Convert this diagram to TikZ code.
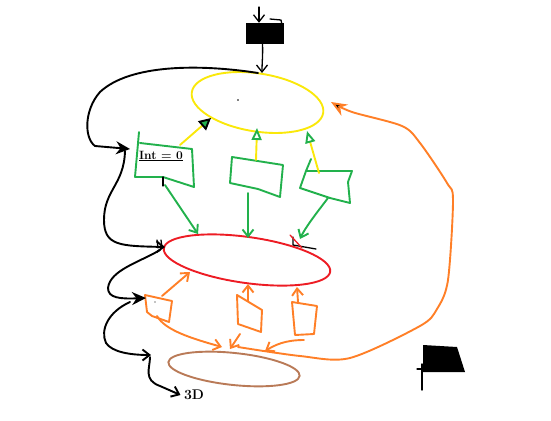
\documentclass[tikz,border=0pt]{standalone}
\usetikzlibrary{arrows.meta,shapes.geometric}
\definecolor{pyellow}{RGB}{250,232,10}
\definecolor{pgreen}{RGB}{34,177,76}
\definecolor{pred}{RGB}{237,28,36}
\definecolor{porange}{RGB}{255,127,39}
\definecolor{pbrown}{RGB}{185,122,87}
\begin{document}
\begin{tikzpicture}[x=1pt,y=-1pt,line cap=round,line join=round,
  stroke/.style={line width=1.9pt},
  thin stroke/.style={line width=1.3pt},
  barb/.style={-{Straight Barb[length=7pt,width=11pt]}},
  fatbarb/.style={-{Stealth[length=14pt,width=13pt]}},
  greentip/.style={-{Triangle[open,length=12pt,width=10pt,color=pgreen]}},
  ring/.style={ellipse,draw,stroke,inner sep=0pt}]
\useasboundingbox (0,0) rectangle (551,420);

% ---------- main shapes ----------
\node[fill=black,minimum width=38pt,minimum height=21pt,inner sep=0pt] (start) at (264.5,33.5) {};
\draw[thin stroke] (270,19) -- (281,20) -- (283,30);
\node[ring,draw=pyellow,minimum width=133pt,minimum height=58pt,rotate=-9] (loop) at (257.5,102.5) {};
\node[ring,draw=pred,minimum width=168pt,minimum height=46pt,rotate=-8] (body) at (247,260) {};
\node[ring,draw=pbrown,minimum width=132pt,minimum height=32pt,rotate=-6] (exit) at (234,369) {};
\node[font=\bfseries\fontsize{14}{14}\selectfont] (threeD) at (194,395) {3D};
\fill (238,100) circle (0.8pt);

% flag
\fill (423,345) -- (457,347) -- (465,372) -- (423,372) -- cycle;
\draw[line width=1.4pt] (422,364) -- (422,390);
\draw[thin stroke] (417,369) -- (423,369);

% named points on the shapes
\coordinate (inTop) at (259,7);
\coordinate (loopTop) at (262,73);
\coordinate (loopTopL) at (258,73);
\coordinate (loopR) at (331,102);
\coordinate (loopB1) at (211,118);
\coordinate (loopB2) at (257,128);
\coordinate (loopB3) at (307,131);
\coordinate (b1W) at (130,149);
\coordinate (b1link) at (125,151);
\coordinate (redL) at (165,247);
\coordinate (redLout) at (160,250);
\coordinate (redT1) at (198,234);
\coordinate (redT2) at (248,238);
\coordinate (redT3) at (300,239);
\coordinate (redB1) at (190,272);
\coordinate (redB2) at (248,284);
\coordinate (redB3) at (297,287);
\coordinate (o1W) at (146,298);
\coordinate (o1link) at (130,302);
\coordinate (exitW) at (151,355);
\coordinate (exitlink) at (150,357);
\coordinate (merge) at (238,347);

% ---------- green boxes ----------
\draw[pgreen,stroke] (139,132) -- (135,177) -- (163,177) -- (194,187) -- (192,149) -- (140,143);
\node[anchor=west,font=\bfseries\fontsize{12}{12}\selectfont,inner sep=0pt] (init) at (139,156) {\underline{Int = 0}};
\draw[thin stroke] (163,177) -- (163,186);
\coordinate (b1T) at (180,145);
\coordinate (b1B) at (165,185);

\draw[pgreen,stroke] (232,157) -- (283,165) -- (280,197) -- (258,189) -- (230,183) -- cycle;
\coordinate (b2T) at (256,160);
\coordinate (b2B) at (248,193);

\draw[pgreen,stroke] (311,159) -- (306,171) -- (300,188) -- (330,198) -- (350,203) -- (348,182) -- (352,171) -- (306,171);
\coordinate (b3T) at (319,173);
\coordinate (b3B) at (328,198);

% ---------- orange boxes ----------
\draw[porange,stroke] (145,295) -- (172,301) -- (169,322) -- (152,316) -- (147,312) -- cycle;
\fill (155,302) circle (0.7pt);
\coordinate (o1T) at (162,296);
\coordinate (o1B) at (157,316);

\draw[porange,stroke] (237,295) -- (262,310) -- (261,332) -- (238,324) -- cycle;
\coordinate (o2T) at (248,301);
\coordinate (o2B) at (240,334);

\draw[porange,stroke] (292,302) -- (295,335) -- (314,334) -- (317,306) -- cycle;
\coordinate (o3T) at (298,302);
\coordinate (o3B) at (304,340);

% ---------- black connectors ----------
\draw[thin stroke,barb] (inTop) -- ([xshift=-5.5pt]start.north);
\draw[thin stroke,barb] ([xshift=-2pt]start.south) .. controls (263,55) and (262,62) .. (loopTop);
\draw[stroke,fatbarb] (loopTopL) .. controls (200,64) and (130,64) .. (100,92)
   .. controls (84,110) and (84,138) .. (95,146) -- (b1W);
\draw[stroke,barb] (b1link) .. controls (124,185) and (104,190) .. (104,220)
   .. controls (104,246) and (120,246) .. (redL);
\draw[thin stroke] (157,240) -- (158,248) (161,240) -- (162,248);
\draw[stroke,fatbarb] (redLout) .. controls (140,262) and (110,270) .. (108,288)
   .. controls (108,298) and (120,299) .. (o1W);
\draw[stroke,barb] (o1link) .. controls (108,312) and (100,330) .. (106,343)
   .. controls (112,352) and (130,355) .. (exitW);
\draw[stroke,barb] (exitlink) .. controls (150,368) and (143,380) .. (160,386) -- (threeD.west);
\draw[thin stroke] (293,237) -- (293,245) -- (316,249);
\draw[pred,thin stroke] (290,235) -- (302,248);

% ---------- yellow / green connectors ----------
\draw[pyellow,stroke,-{Triangle[length=12pt,width=12pt,color=black,fill=pgreen]}] (b1T) -- (loopB1);
\draw[pyellow,stroke,greentip] (b2T) -- (loopB2);
\draw[pyellow,stroke,greentip] (b3T) -- (loopB3);
\draw[pgreen,stroke,barb] (b1B) -- (redT1);
\draw[pgreen,stroke,barb] (b2B) -- (redT2);
\draw[pgreen,stroke,barb] (b3B) .. controls (315,215) and (305,228) .. (redT3);

% ---------- orange connectors ----------
\draw[porange,stroke,barb] (o1T) -- (redB1);
\draw[porange,stroke,barb] (o2T) -- (redB2);
\draw[porange,stroke,barb] (o3T) -- (redB3);
\draw[porange,stroke,barb] (o1B) .. controls (165,330) and (190,338) .. (222,347);
\draw[porange,stroke,barb] (o2B) -- (230,349);
\draw[porange,stroke,barb] (o3B) .. controls (285,340) and (275,345) .. (265,351);
\draw[porange,stroke,-{Stealth[length=16pt,width=13pt,color=porange,fill=black]}]
  plot[smooth,tension=0.5] coordinates {(merge) (300,356) (350,358) (420,326) (437,309) (448,280) (453,200) (447,183) (420,143) (402,126) (352,112) (loopR)};
\end{tikzpicture}
\end{document}
